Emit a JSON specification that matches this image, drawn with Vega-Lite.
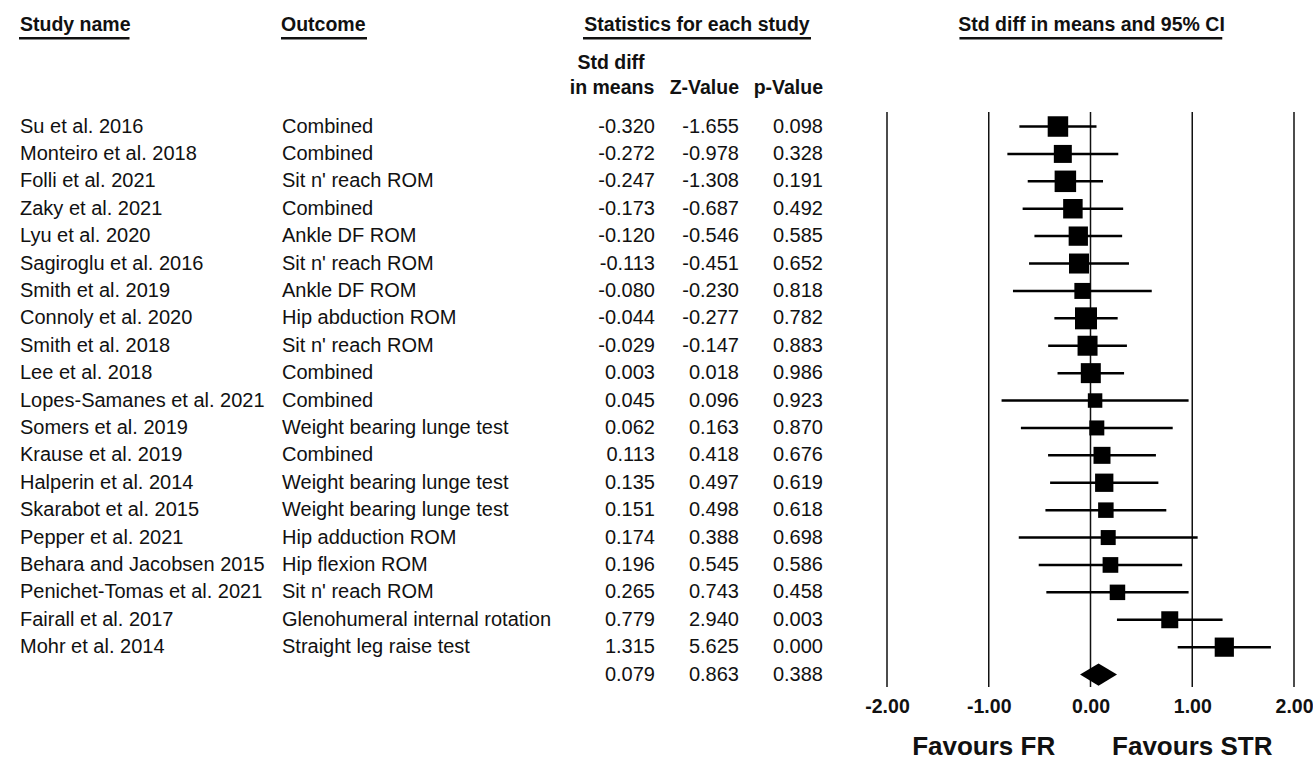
{
  "$schema": "https://vega.github.io/schema/vega-lite/v6.json",
  "padding": 0,
  "autosize": {"type": "pad"},
  "background": "white",
  "spacing": 10,
  "bounds": "flush",
  "config": {
    "view": {"stroke": null},
    "text": {"font": "Liberation Sans", "color": "#111"},
    "axis": {"labelFont": "Liberation Sans"},
    "locale": {"number": {"decimal": ".", "thousands": ",", "grouping": [3], "currency": ["$", ""], "minus": "-"}}
  },
  "datasets": {
    "studies": [
      {"order": 1, "kind": "study", "study": "Su et al. 2016", "outcome": "Combined", "d": -0.320, "z": -1.655, "p": 0.098, "lower": -0.699, "upper": 0.059, "weight": 6.40},
      {"order": 2, "kind": "study", "study": "Monteiro et al. 2018", "outcome": "Combined", "d": -0.272, "z": -0.978, "p": 0.328, "lower": -0.817, "upper": 0.273, "weight": 4.93},
      {"order": 3, "kind": "study", "study": "Folli et al. 2021", "outcome": "Sit n' reach ROM", "d": -0.247, "z": -1.308, "p": 0.191, "lower": -0.617, "upper": 0.123, "weight": 7.04},
      {"order": 4, "kind": "study", "study": "Zaky et al. 2021", "outcome": "Combined", "d": -0.173, "z": -0.687, "p": 0.492, "lower": -0.667, "upper": 0.321, "weight": 5.79},
      {"order": 5, "kind": "study", "study": "Lyu et al. 2020", "outcome": "Ankle DF ROM", "d": -0.120, "z": -0.546, "p": 0.585, "lower": -0.551, "upper": 0.311, "weight": 5.67},
      {"order": 6, "kind": "study", "study": "Sagiroglu et al. 2016", "outcome": "Sit n' reach ROM", "d": -0.113, "z": -0.451, "p": 0.652, "lower": -0.604, "upper": 0.378, "weight": 6.09},
      {"order": 7, "kind": "study", "study": "Smith et al. 2019", "outcome": "Ankle DF ROM", "d": -0.080, "z": -0.230, "p": 0.818, "lower": -0.762, "upper": 0.602, "weight": 3.90},
      {"order": 8, "kind": "study", "study": "Connoly et al. 2020", "outcome": "Hip abduction ROM", "d": -0.044, "z": -0.277, "p": 0.782, "lower": -0.355, "upper": 0.267, "weight": 7.37},
      {"order": 9, "kind": "study", "study": "Smith et al. 2018", "outcome": "Sit n' reach ROM", "d": -0.029, "z": -0.147, "p": 0.883, "lower": -0.416, "upper": 0.358, "weight": 6.09},
      {"order": 10, "kind": "study", "study": "Lee et al. 2018", "outcome": "Combined", "d": 0.003, "z": 0.018, "p": 0.986, "lower": -0.324, "upper": 0.330, "weight": 6.09},
      {"order": 11, "kind": "study", "study": "Lopes-Samanes et al. 2021", "outcome": "Combined", "d": 0.045, "z": 0.096, "p": 0.923, "lower": -0.874, "upper": 0.964, "weight": 3.20},
      {"order": 12, "kind": "study", "study": "Somers et al. 2019", "outcome": "Weight bearing lunge test", "d": 0.062, "z": 0.163, "p": 0.870, "lower": -0.684, "upper": 0.808, "weight": 3.43},
      {"order": 13, "kind": "study", "study": "Krause et al. 2019", "outcome": "Combined", "d": 0.113, "z": 0.418, "p": 0.676, "lower": -0.417, "upper": 0.643, "weight": 4.40},
      {"order": 14, "kind": "study", "study": "Halperin et al. 2014", "outcome": "Weight bearing lunge test", "d": 0.135, "z": 0.497, "p": 0.619, "lower": -0.397, "upper": 0.667, "weight": 5.10},
      {"order": 15, "kind": "study", "study": "Skarabot et al. 2015", "outcome": "Weight bearing lunge test", "d": 0.151, "z": 0.498, "p": 0.618, "lower": -0.443, "upper": 0.745, "weight": 3.66},
      {"order": 16, "kind": "study", "study": "Pepper et al. 2021", "outcome": "Hip adduction ROM", "d": 0.174, "z": 0.388, "p": 0.698, "lower": -0.705, "upper": 1.053, "weight": 3.43},
      {"order": 17, "kind": "study", "study": "Behara and Jacobsen 2015", "outcome": "Hip flexion ROM", "d": 0.196, "z": 0.545, "p": 0.586, "lower": -0.509, "upper": 0.901, "weight": 3.75},
      {"order": 18, "kind": "study", "study": "Penichet-Tomas et al. 2021", "outcome": "Sit n' reach ROM", "d": 0.265, "z": 0.743, "p": 0.458, "lower": -0.434, "upper": 0.964, "weight": 3.66},
      {"order": 19, "kind": "study", "study": "Fairall et al. 2017", "outcome": "Glenohumeral internal rotation", "d": 0.779, "z": 2.940, "p": 0.003, "lower": 0.260, "upper": 1.298, "weight": 4.40},
      {"order": 20, "kind": "study", "study": "Mohr et al. 2014", "outcome": "Straight leg raise test", "d": 1.315, "z": 5.625, "p": 0.000, "lower": 0.857, "upper": 1.773, "weight": 5.62},
      {"order": 21, "kind": "summary", "study": "Summary", "outcome": "", "d": 0.079, "z": 0.863, "p": 0.388, "lower": -0.100, "upper": 0.258}
    ],
    "reflines": [{"x": -2}, {"x": -1}, {"x": 0}, {"x": 1}, {"x": 2}],
    "favours": [{"label": "Favours FR", "x": -1.05}, {"label": "Favours STR", "x": 1.0}]
  },
  "hconcat": [
    {
      "width": 877,
      "height": 687,
      "layer": [
        {
          "data": {"name": "studies"},
          "transform": [{"filter": "datum.kind === 'study'"}],
          "mark": {"type": "text", "align": "left", "baseline": "middle", "fontSize": 20},
          "encoding": {
            "x": {"datum": 20, "type": "quantitative", "scale": {"domain": [0, 877], "nice": false, "zero": false}, "axis": null},
            "y": {"field": "order", "type": "quantitative", "scale": {"domain": [-3.617, 21.454], "reverse": true, "nice": false, "zero": false}, "axis": null},
            "text": {"field": "study"}
          }
        },
        {
          "data": {"name": "studies"},
          "transform": [{"filter": "datum.kind === 'study'"}],
          "mark": {"type": "text", "align": "left", "baseline": "middle", "fontSize": 20},
          "encoding": {
            "x": {"datum": 282, "type": "quantitative"},
            "y": {"field": "order", "type": "quantitative"},
            "text": {"field": "outcome"}
          }
        },
        {
          "data": {"name": "studies"},
          "mark": {"type": "text", "align": "right", "baseline": "middle", "fontSize": 20},
          "encoding": {
            "x": {"datum": 655, "type": "quantitative"},
            "y": {"field": "order", "type": "quantitative"},
            "text": {"field": "d", "type": "quantitative", "format": ".3f"}
          }
        },
        {
          "data": {"name": "studies"},
          "mark": {"type": "text", "align": "right", "baseline": "middle", "fontSize": 20},
          "encoding": {
            "x": {"datum": 739, "type": "quantitative"},
            "y": {"field": "order", "type": "quantitative"},
            "text": {"field": "z", "type": "quantitative", "format": ".3f"}
          }
        },
        {
          "data": {"name": "studies"},
          "mark": {"type": "text", "align": "right", "baseline": "middle", "fontSize": 20},
          "encoding": {
            "x": {"datum": 823, "type": "quantitative"},
            "y": {"field": "order", "type": "quantitative"},
            "text": {"field": "p", "type": "quantitative", "format": ".3f"}
          }
        },
        {
          "data": {"values": [{"label": "Study name"}]},
          "mark": {"type": "text", "align": "left", "baseline": "middle", "fontSize": 19.5, "fontWeight": "bold"},
          "encoding": {
            "x": {"datum": 20, "type": "quantitative"},
            "y": {"datum": -2.69, "type": "quantitative"},
            "text": {"field": "label"}
          }
        },
        {
          "data": {"values": [{"label": "Outcome"}]},
          "mark": {"type": "text", "align": "left", "baseline": "middle", "fontSize": 19.5, "fontWeight": "bold"},
          "encoding": {
            "x": {"datum": 281, "type": "quantitative"},
            "y": {"datum": -2.69, "type": "quantitative"},
            "text": {"field": "label"}
          }
        },
        {
          "data": {"values": [{"label": "Statistics for each study"}]},
          "mark": {"type": "text", "align": "center", "baseline": "middle", "fontSize": 19.5, "fontWeight": "bold"},
          "encoding": {
            "x": {"datum": 697, "type": "quantitative"},
            "y": {"datum": -2.69, "type": "quantitative"},
            "text": {"field": "label"}
          }
        },
        {
          "data": {"values": [{"label": "Study name"}]},
          "mark": {"type": "rule", "strokeWidth": 2.5, "color": "#111"},
          "encoding": {
            "x": {"datum": 19, "type": "quantitative"},
            "x2": {"datum": 129.5},
            "y": {"datum": -2.22, "type": "quantitative"}
          }
        },
        {
          "data": {"values": [{"label": "Outcome"}]},
          "mark": {"type": "rule", "strokeWidth": 2.5, "color": "#111"},
          "encoding": {
            "x": {"datum": 281, "type": "quantitative"},
            "x2": {"datum": 367},
            "y": {"datum": -2.22, "type": "quantitative"}
          }
        },
        {
          "data": {"values": [{"label": "Statistics for each study"}]},
          "mark": {"type": "rule", "strokeWidth": 2.5, "color": "#111"},
          "encoding": {
            "x": {"datum": 583, "type": "quantitative"},
            "x2": {"datum": 811},
            "y": {"datum": -2.22, "type": "quantitative"}
          }
        },
        {
          "data": {"values": [{"label": "Std diff"}]},
          "mark": {"type": "text", "align": "center", "baseline": "middle", "fontSize": 19.5, "fontWeight": "bold"},
          "encoding": {
            "x": {"datum": 611, "type": "quantitative"},
            "y": {"datum": -1.336, "type": "quantitative"},
            "text": {"field": "label"}
          }
        },
        {
          "data": {"values": [{"label": "in means"}]},
          "mark": {"type": "text", "align": "center", "baseline": "middle", "fontSize": 19.5, "fontWeight": "bold"},
          "encoding": {
            "x": {"datum": 612, "type": "quantitative"},
            "y": {"datum": -0.405, "type": "quantitative"},
            "text": {"field": "label"}
          }
        },
        {
          "data": {"values": [{"label": "Z-Value"}, {"label": "p-Value"}]},
          "transform": [{"filter": "datum.label === 'Z-Value'"}],
          "mark": {"type": "text", "align": "right", "baseline": "middle", "fontSize": 19.5, "fontWeight": "bold"},
          "encoding": {
            "x": {"datum": 739, "type": "quantitative"},
            "y": {"datum": -0.405, "type": "quantitative"},
            "text": {"field": "label"}
          }
        },
        {
          "data": {"values": [{"label": "Z-Value"}, {"label": "p-Value"}]},
          "transform": [{"filter": "datum.label === 'p-Value'"}],
          "mark": {"type": "text", "align": "right", "baseline": "middle", "fontSize": 19.5, "fontWeight": "bold"},
          "encoding": {
            "x": {"datum": 823, "type": "quantitative"},
            "y": {"datum": -0.405, "type": "quantitative"},
            "text": {"field": "label"}
          }
        }
      ]
    },
    {
      "width": 407,
      "height": 687,
      "layer": [
        {
          "data": {"name": "reflines"},
          "mark": {"type": "rule", "color": "#111", "strokeWidth": 1.5},
          "encoding": {
            "x": {
              "field": "x", "type": "quantitative",
              "scale": {"domain": [-2, 2], "nice": false, "zero": false},
              "axis": {
                "orient": "bottom", "values": [-2, -1, 0, 1, 2], "format": ".2f",
                "domain": false, "ticks": false, "tickSize": 0, "grid": false, "title": null,
                "labelFont": "Liberation Sans", "labelFontWeight": "bold", "labelFontSize": 19.5,
                "labelColor": "#111", "labelPadding": 10, "labelFlush": false, "labelOverlap": false, "labelBound": false
              }
            },
            "y": {"datum": 0.47, "type": "quantitative", "scale": {"domain": [-3.617, 21.454], "reverse": true, "nice": false, "zero": false}, "axis": null},
            "y2": {"datum": 21.454}
          }
        },
        {
          "data": {"name": "studies"},
          "transform": [{"filter": "datum.kind === 'study'"}],
          "mark": {"type": "rule", "color": "#000", "strokeWidth": 2.5},
          "encoding": {
            "x": {"field": "lower", "type": "quantitative"},
            "x2": {"field": "upper"},
            "y": {"field": "order", "type": "quantitative"}
          }
        },
        {
          "data": {"name": "studies"},
          "transform": [{"filter": "datum.kind === 'study'"}],
          "mark": {"type": "point", "shape": "square", "filled": true, "color": "#000", "opacity": 1, "strokeWidth": 0},
          "encoding": {
            "x": {"field": "d", "type": "quantitative"},
            "y": {"field": "order", "type": "quantitative"},
            "size": {"field": "weight", "type": "quantitative", "scale": {"type": "linear", "domain": [0, 10], "range": [0, 656.6]}, "legend": null}
          }
        },
        {
          "data": {"name": "studies"},
          "transform": [{"filter": "datum.kind === 'summary'"}],
          "mark": {"type": "point", "shape": "M-1,0L0,-0.6L1,0L0,0.6Z", "filled": true, "color": "#000", "opacity": 1, "strokeWidth": 0, "size": 1369},
          "encoding": {
            "x": {"field": "d", "type": "quantitative"},
            "y": {"field": "order", "type": "quantitative"}
          }
        },
        {
          "data": {"values": [{"label": "Std diff in means and 95% CI"}]},
          "mark": {"type": "text", "align": "center", "baseline": "middle", "fontSize": 19.5, "fontWeight": "bold"},
          "encoding": {
            "x": {"datum": 0.01, "type": "quantitative"},
            "y": {"datum": -2.69, "type": "quantitative"},
            "text": {"field": "label"}
          }
        },
        {
          "data": {"values": [{"label": "Std diff in means and 95% CI"}]},
          "mark": {"type": "rule", "strokeWidth": 2.5, "color": "#111"},
          "encoding": {
            "x": {"datum": -1.288, "type": "quantitative"},
            "x2": {"datum": 1.295},
            "y": {"datum": -2.22, "type": "quantitative"}
          }
        },
        {
          "data": {"name": "favours"},
          "mark": {"type": "text", "align": "center", "baseline": "middle", "fontSize": 26, "fontWeight": "bold"},
          "encoding": {
            "x": {"field": "x", "type": "quantitative"},
            "y": {"datum": 23.66, "type": "quantitative"},
            "text": {"field": "label"}
          }
        }
      ]
    }
  ]
}
